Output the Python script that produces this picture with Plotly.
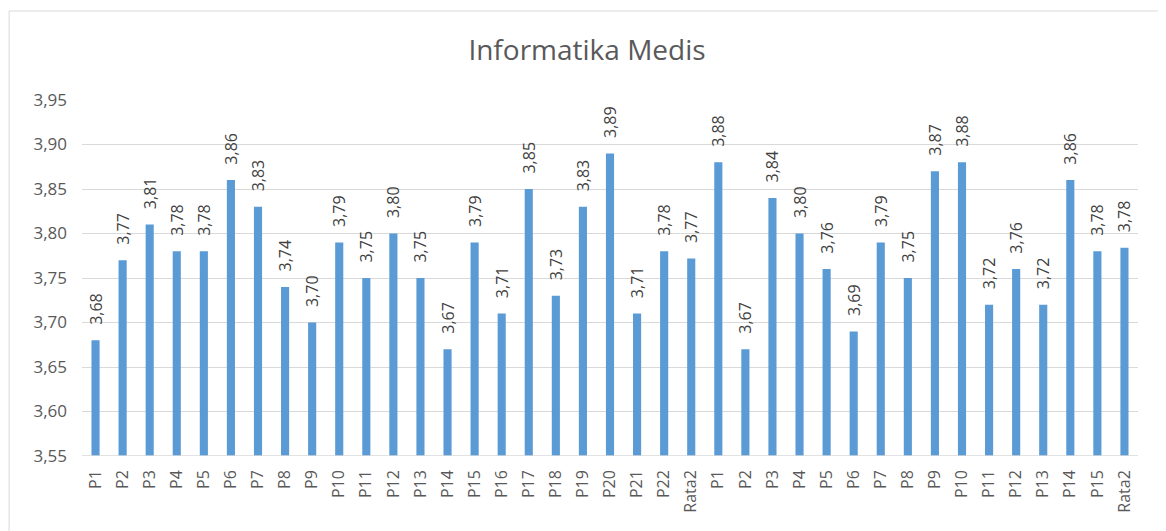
import plotly.graph_objects as go

categories = ["P1", "P2", "P3", "P4", "P5", "P6", "P7", "P8", "P9", "P10", "P11",
              "P12", "P13", "P14", "P15", "P16", "P17", "P18", "P19", "P20", "P21",
              "P22", "Rata2",
              "P1", "P2", "P3", "P4", "P5", "P6", "P7", "P8", "P9", "P10", "P11",
              "P12", "P13", "P14", "P15", "Rata2"]
values = [3.68, 3.77, 3.81, 3.78, 3.78, 3.86, 3.83, 3.74, 3.70, 3.79, 3.75,
          3.80, 3.75, 3.67, 3.79, 3.71, 3.85, 3.73, 3.83, 3.89, 3.71,
          3.78, 3.772,
          3.88, 3.67, 3.84, 3.80, 3.76, 3.69, 3.79, 3.75, 3.87, 3.88, 3.72,
          3.76, 3.72, 3.86, 3.78, 3.784]
y_ticks = [3.55, 3.60, 3.65, 3.70, 3.75, 3.80, 3.85, 3.90, 3.95]

positions = list(range(len(categories)))
font_family = "Open Sans, Noto Sans, sans-serif"
gray = "#595959"

fig = go.Figure(go.Bar(
    x=positions,
    y=values,
    marker=dict(color="#5B9BD5", line=dict(width=0)),
    width=0.3,
    texttemplate="\u00a0\u00a0\u00a0%{y:.2f}",
    textposition="outside",
    textangle=-90,
    constraintext="none",
    cliponaxis=False,
    textfont=dict(family=font_family, size=16, color="#404040"),
))

fig.update_layout(
    width=1158, height=523,
    separators=",.",
    paper_bgcolor="white",
    plot_bgcolor="white",
    margin=dict(l=74, r=28, t=92, b=75),
    title=dict(text="Informatika Medis", x=0.5, xref="container", xanchor="center",
               y=0.92, yanchor="middle",
               font=dict(family=font_family, size=28, color=gray)),
    showlegend=False,
    xaxis=dict(
        tickmode="array", tickvals=positions, ticktext=categories,
        tickangle=-90, range=[-0.5, len(categories) - 0.5],
        showgrid=False, ticks="", showline=False, zeroline=False,
        ticklabelstandoff=10,
        tickfont=dict(family=font_family, size=16, color=gray),
    ),
    yaxis=dict(
        range=[3.55, 3.95], tickmode="array", tickvals=y_ticks,
        tickformat=".2f", showgrid=True, gridcolor="#D9D9D9", gridwidth=1,
        zeroline=False, showline=False, ticks="",
        ticklabelstandoff=14,
        tickfont=dict(family=font_family, size=17, color=gray),
    ),
    shapes=[
        dict(type="rect", xref="paper", yref="paper",
             x0=-0.069, x1=1.0246, y0=-0.24, y1=1.25,
             line=dict(color="#D9D9D9", width=1), fillcolor="rgba(0,0,0,0)",
             layer="below"),
        dict(type="line", xref="paper", yref="y", x0=0, x1=1, y0=3.55, y1=3.55,
             line=dict(color="#D9D9D9", width=1.5)),
    ],
)

fig.write_html("out.html")
